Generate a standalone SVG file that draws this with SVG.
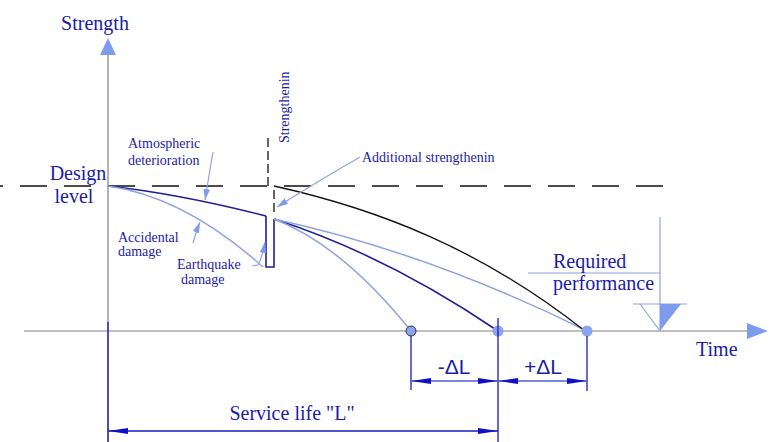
<svg xmlns="http://www.w3.org/2000/svg" width="773" height="442" viewBox="0 0 773 442">
<defs>
<style>
.t{font-family:"Liberation Serif","Times New Roman",serif;fill:#1c1ca8}
.s{font-family:"Liberation Sans",Arial,sans-serif;fill:#1c1ca8}
.ax{stroke:#808080;stroke-width:1.2;fill:none}
.dk{stroke:#1f1f9a;stroke-width:1.6;fill:none}
.lt{stroke:#8fa3e0;stroke-width:1.5;fill:none}
.bk{stroke:#111;stroke-width:1.3;fill:none}
.ld{stroke:#8fa3e0;stroke-width:1.2;fill:none}
.dim{stroke:#1a1ac0;stroke-width:1.3;fill:none}
.dimline{stroke:#4d5fd0;stroke-width:1.3;fill:none}
.dash{stroke:#111;stroke-width:1.3;fill:none}
.dot{fill:#8aa4ef}
</style>
<marker id="la" viewBox="0 0 10 6" refX="10" refY="3" markerWidth="11" markerHeight="7" markerUnits="userSpaceOnUse" orient="auto">
<path d="M0,0 L10,3 L0,6 z" fill="#7f9bef"/>
</marker>
<marker id="da" viewBox="0 0 20 6" refX="20" refY="3" markerWidth="20" markerHeight="6" markerUnits="userSpaceOnUse" orient="auto">
<path d="M0,0 L20,3 L0,6 z" fill="#1010c8"/>
</marker>
<marker id="das" viewBox="0 0 20 6" refX="0" refY="3" markerWidth="20" markerHeight="6" markerUnits="userSpaceOnUse" orient="auto">
<path d="M20,0 L0,3 L20,6 z" fill="#1010c8"/>
</marker>
</defs>
<rect width="773" height="442" fill="#fff"/>

<g id="axes">
<line class="ax" x1="108" y1="54" x2="108" y2="442"/>
<polygon points="108,38 100,55 116,55" fill="#7f9bef"/>
<line class="ax" x1="24" y1="331" x2="748" y2="331"/>
<polygon points="768,331 747,323 747,339" fill="#7f9bef"/>
<text class="t" x="95" y="30" font-size="20" text-anchor="middle">Strength</text>
<text class="t" x="696" y="356" font-size="20">Time</text>
</g>

<g id="design-level">
<line class="dash" x1="0" y1="186" x2="663" y2="186" stroke-dasharray="27 17" stroke-dashoffset="24"/>
<text class="t" x="78" y="180" font-size="20" text-anchor="middle">Design</text>
<text class="t" x="74" y="203" font-size="20" text-anchor="middle">level</text>
</g>

<g id="strengthening">
<line class="dash" x1="268" y1="138" x2="268" y2="186" stroke-dasharray="9 4"/>
<line class="dash" x1="274" y1="190" x2="274" y2="213" stroke-dasharray="9 4"/>
<text class="t" transform="translate(289,143) rotate(-90)" font-size="14">Strengthenin</text>
</g>

<g id="curves">
<path class="dk" d="M108,186 Q180,194 266,216"/>
<path class="lt" d="M108,186 Q185,197 263,267"/>
<path class="dk" d="M266,216 V267 H274 V219"/>
<path class="dk" d="M274,219 Q386,255 498,331"/>
<path class="lt" d="M274,219 Q430,253 587,331"/>
<path class="lt" d="M274,219 Q342,245 411,331"/>
<path class="bk" d="M274,186 C378,209 481,249 585,331"/>
</g>

<g id="labels">
<text class="t" x="128" y="148" font-size="14">Atmospheric</text>
<text class="t" x="128" y="165" font-size="14">deterioration</text>
<text class="t" x="362" y="162" font-size="14">Additional strengthenin</text>
<text class="t" x="118" y="242" font-size="14">Accidental</text>
<text class="t" x="118" y="256" font-size="14">damage</text>
<text class="t" x="177" y="269" font-size="14">Earthquake</text>
<text class="t" x="181" y="284" font-size="14">damage</text>
</g>

<g id="connectors">
<path class="ld" d="M213,152 Q209,175 205,200" marker-end="url(#la)"/>
<path class="ld" d="M360,157 Q320,180 277,207" marker-end="url(#la)"/>
<path class="ld" d="M193,243 Q196,232 200,222" marker-end="url(#la)"/>
<path class="ld" d="M252,266 L258,265 Q262,258 265,242" marker-end="url(#la)"/>
</g>

<g id="required-performance">
<line class="ld" x1="528" y1="273" x2="660" y2="273" stroke-width="1.5"/>
<line class="ld" x1="660" y1="217" x2="660" y2="331" stroke-width="1.5"/>
<line class="ld" x1="633" y1="304" x2="687" y2="304" stroke-width="1.5"/>
<line class="ld" x1="640" y1="304" x2="660" y2="331"/>
<polygon points="660,304 681,304 660,331" fill="#7f9bef"/>
<text class="t" x="553" y="268" font-size="20">Required</text>
<text class="t" x="553" y="290" font-size="20">performance</text>
</g>

<g id="end-points">
<circle class="dot" cx="411" cy="331" r="5" stroke="#333" stroke-width="1"/>
<circle class="dot" cx="498" cy="331" r="5.5"/>
<circle class="dot" cx="587" cy="331" r="5.5"/>
</g>

<g id="dimensions">
<line class="dim" x1="411" y1="336" x2="411" y2="390"/>
<line class="dim" x1="498" y1="318" x2="498" y2="442"/>
<line class="dim" x1="587" y1="336" x2="587" y2="391"/>
<line class="dim" x1="108" y1="322" x2="108" y2="442"/>
<line class="dimline" x1="411" y1="381" x2="498" y2="381" marker-start="url(#das)" marker-end="url(#da)"/>
<line class="dimline" x1="498" y1="381" x2="587" y2="381" marker-start="url(#das)" marker-end="url(#da)"/>
<line class="dim" x1="108" y1="431" x2="498" y2="431" marker-start="url(#das)" marker-end="url(#da)"/>
<text class="s" x="454" y="374" font-size="21" text-anchor="middle">-ΔL</text>
<text class="s" x="543" y="374" font-size="21" text-anchor="middle">+ΔL</text>
<text class="t" x="292" y="420" font-size="20" text-anchor="middle">Service life "L"</text>
</g>
</svg>
